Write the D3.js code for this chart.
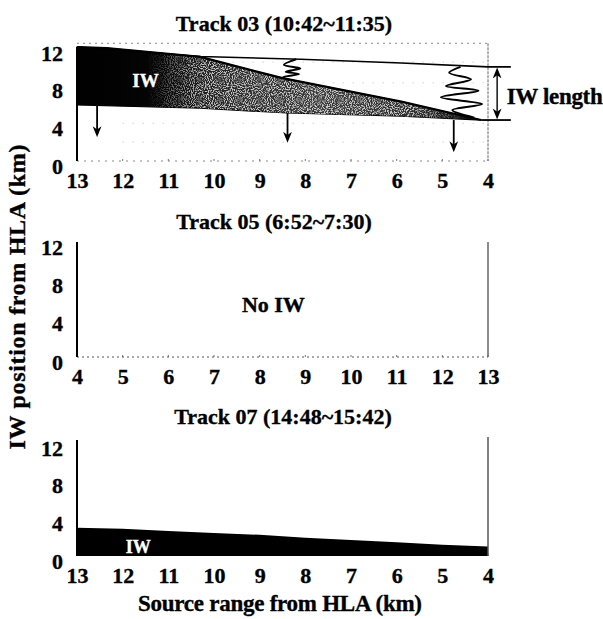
<!DOCTYPE html>
<html>
<head>
<meta charset="utf-8">
<script src="https://cdn.jsdelivr.net/npm/d3@7"></script>
<style>
body { margin: 0; background: #fff; }
svg text { font-family: "Liberation Serif", "Times New Roman", serif; font-weight: bold; fill: #000; stroke: #000; stroke-width: 0.35px; }
</style>
</head>
<body>
<svg id="chart"></svg>
<script>
var width = 603,
	height = 619,
	LEFT = 77,
	RIGHT = 488,
	TICK_FONT = 22,
	TITLE_FONT = 22;

// ---- data (km from HLA / km position) ----
var rangeTicks = [4, 5, 6, 7, 8, 9, 10, 11, 12, 13];
var positionTicks = [0, 4, 8, 12];
var titles = ["Track 03 (10:42~11:35)", "Track 05 (6:52~7:30)", "Track 07 (14:48~15:42)"];

// track 03: IW packet, upper and lower edges
var iwUpper03 = [[13, 12.1], [12.35, 12.0], [10.3, 11.05], [8.5, 8.8], [5.9, 6.3], [4.15, 4.35]];
var iwLower03 = [[13, 5.95], [10.3, 5.6], [8.4, 5.1], [5.9, 4.75], [4.15, 4.35]];
// leading crest line
var crest03 = [[13, 12.1], [10.3, 11.1], [8.1, 10.8], [5.9, 10.4], [4, 10.0], [3.5, 10.0]];
// oscillation sketches
var springA03 = [[8.2, 10.8], [8.47, 10.2], [8.11, 9.83], [8.43, 9.48], [8.14, 9.24], [8.49, 8.89], [8.35, 8.6]];
var springB03 = [[4.6, 10.0], [4.85, 9.37], [4.37, 8.67], [4.92, 7.96], [4.21, 7.46], [5.03, 6.76], [4.13, 6.05], [4.78, 5.41], [4.3, 4.6]];
// propagation arrows: km, from, to
var arrowX03 = [12.56, 8.39, 4.75];
var arrowFrom03 = [5.95, 5.1, 4.35];
var arrowTo03 = [3.0, 2.4, 1.4];
// IW length bracket
var lengthTop03 = 10.0, lengthBottom03 = 4.35;

// track 07: IW packet top edge, bottom at 0
var range07 = [13, 12, 11, 10, 9, 8, 7, 6, 5, 4];
var top07 = [3.0, 2.9, 2.65, 2.45, 2.25, 1.95, 1.7, 1.45, 1.2, 1.0];

// ---- layout ----
var panels = [
	{ top: 48, bottom: 161, reversed: true, titleY: 24, titleX: 284 },
	{ top: 242, bottom: 357, reversed: false, titleY: 222, titleX: 274 },
	{ top: 443, bottom: 556, reversed: true, titleY: 417, titleX: 283 }
];

var svg = d3.select("#chart").attr("width", width).attr("height", height);

var defs = svg.append("defs");

// base shade of the packet, black at the old end
var grad = defs.append("linearGradient")
	.attr("id", "iwShade")
	.attr("gradientUnits", "userSpaceOnUse")
	.attr("x1", LEFT).attr("x2", RIGHT).attr("y1", 0).attr("y2", 0);
[[0, "#000"], [0.2, "#050505"], [0.35, "#262626"], [0.6, "#3a3a3a"], [0.85, "#2a2a2a"], [1, "#000"]]
	.forEach(function(s) {
		grad.append("stop").attr("offset", s[0]).attr("stop-color", s[1]);
	});

// where the stipple shows
var sgrad = defs.append("linearGradient")
	.attr("id", "stippleFade")
	.attr("gradientUnits", "userSpaceOnUse")
	.attr("x1", LEFT).attr("x2", RIGHT).attr("y1", 0).attr("y2", 0);
[[0, "#000"], [0.17, "#000"], [0.3, "#fff"], [0.82, "#fff"], [0.96, "#000"]]
	.forEach(function(s) {
		sgrad.append("stop").attr("offset", s[0]).attr("stop-color", s[1]);
	});
defs.append("mask").attr("id", "stippleMask")
	.append("rect")
	.attr("x", 0).attr("y", 0).attr("width", width).attr("height", height)
	.style("fill", "url(#stippleFade)");

var filt = defs.append("filter").attr("id", "speckle")
	.attr("x", 0).attr("y", 0).attr("width", 1).attr("height", 1);
filt.append("feTurbulence")
	.attr("type", "fractalNoise")
	.attr("baseFrequency", 0.95)
	.attr("numOctaves", 1)
	.attr("seed", 3);
filt.append("feColorMatrix")
	.attr("type", "matrix")
	.attr("values", "0 0 0 0 1  0 0 0 0 1  0 0 0 0 1  5 0 0 0 -2.2");

defs.append("marker")
	.attr("id", "head")
	.attr("viewBox", "0 0 10 10")
	.attr("refX", 6).attr("refY", 5)
	.attr("markerWidth", 11).attr("markerHeight", 11)
	.attr("markerUnits", "userSpaceOnUse")
	.attr("orient", "auto-start-reverse")
	.append("path")
	.attr("d", "M0,1 L10,5 L0,9 L3,5 Z")
	.style("fill", "#000");

var line = d3.line()
	.x(function(d) { return d.x; })
	.y(function(d) { return d.y; });

var curvy = d3.line()
	.curve(d3.curveCatmullRom.alpha(0.5))
	.x(function(d) { return d.x; })
	.y(function(d) { return d.y; });

panels.forEach(function(p, i) {
	p.x = d3.scaleLinear().domain(p.reversed ? [13, 4] : [4, 13]).range([LEFT, RIGHT]);
	p.y = d3.scaleLinear().domain([0, 12]).range([p.bottom, p.top]);
	p.g = svg.append("g").attr("class", "panel");

	p.g.append("text")
		.attr("x", p.titleX)
		.attr("y", p.titleY)
		.attr("dy", "0.33em")
		.attr("text-anchor", "middle")
		.style("font-size", TITLE_FONT + "px")
		.text(titles[i]);
});

function pts(p, arr) {
	return arr.map(function(d) { return { x: p.x(d[0]), y: p.y(d[1]) }; });
}

function drawAxes(p) {
	var xa = p.g.append("g")
		.attr("transform", "translate(0," + p.bottom + ")")
		.call(d3.axisBottom(p.x).tickValues(rangeTicks).tickSize(0).tickPadding(11).tickFormat(d3.format("d")));
	var ya = p.g.append("g")
		.attr("transform", "translate(" + LEFT + ",0)")
		.call(d3.axisLeft(p.y).tickValues(positionTicks).tickSize(0).tickPadding(14));
	[xa, ya].forEach(function(a) {
		a.select(".domain").remove();
		a.selectAll("text")
			.style("font-size", TICK_FONT + "px")
			.style("font-family", null)
			.attr("fill", null);
	});
	ya.selectAll("text").attr("dy", "0.55em");

	// small ticks on the base line
	p.g.append("g").selectAll("line")
		.data(rangeTicks)
		.enter()
		.append("line")
		.attr("x1", function(d) { return p.x(d); })
		.attr("x2", function(d) { return p.x(d); })
		.attr("y1", p.bottom)
		.attr("y2", p.bottom - 2)
		.style("stroke", "#777")
		.style("stroke-width", 1);
}

// ---------- Track 03 ----------
var p0 = panels[0];
drawAxes(p0);

// dotted frame
p0.g.append("line")
	.attr("x1", LEFT).attr("x2", RIGHT)
	.attr("y1", p0.y(12.5)).attr("y2", p0.y(12.5))
	.style("stroke", "#888").style("stroke-dasharray", "2,4");
p0.g.append("line")
	.attr("x1", LEFT).attr("x2", RIGHT)
	.attr("y1", p0.bottom).attr("y2", p0.bottom)
	.style("stroke", "#888").style("stroke-dasharray", "2,5");
p0.g.append("line")
	.attr("x1", RIGHT).attr("x2", RIGHT)
	.attr("y1", p0.y(12.5)).attr("y2", p0.bottom)
	.style("stroke", "#666").style("stroke-dasharray", "3,1");
[2, 4, 8.3, 10.5].forEach(function(v) {
	p0.g.append("line")
		.attr("x1", p0.x(12)).attr("x2", RIGHT)
		.attr("y1", p0.y(v)).attr("y2", p0.y(v))
		.style("stroke", "#bbb").style("stroke-dasharray", "1,9");
});

// IW packet
var packetD = line(pts(p0, iwUpper03).concat(pts(p0, iwLower03).reverse())) + "Z";
defs.append("clipPath").attr("id", "packetClip")
	.append("path").attr("d", packetD);
p0.g.append("path")
	.attr("d", packetD)
	.style("fill", "url(#iwShade)")
	.style("stroke", "#000")
	.style("stroke-width", 1.2);
p0.g.append("g")
	.attr("clip-path", "url(#packetClip)")
	.attr("mask", "url(#stippleMask)")
	.append("rect")
	.attr("x", LEFT).attr("y", p0.top - 5)
	.attr("width", RIGHT - LEFT).attr("height", p0.bottom - p0.top)
	.attr("filter", "url(#speckle)")
	.style("opacity", 0.75);
p0.g.append("path")
	.attr("d", line(pts(p0, iwUpper03)))
	.style("fill", "none")
	.style("stroke", "#000")
	.style("stroke-width", 2.2);

// crest line
p0.g.append("path")
	.attr("d", line(pts(p0, crest03)))
	.style("fill", "none")
	.style("stroke", "#000")
	.style("stroke-width", 1.6);

// springs
[springA03, springB03].forEach(function(s) {
	p0.g.append("path")
		.attr("d", curvy(pts(p0, s)))
		.style("fill", "none")
		.style("stroke", "#000")
		.style("stroke-width", 2)
		.style("stroke-linejoin", "round");
});

// propagation arrows
p0.g.selectAll(".prop")
	.data(arrowX03)
	.enter()
	.append("line")
	.attr("class", "prop")
	.attr("x1", function(d) { return p0.x(d); })
	.attr("x2", function(d) { return p0.x(d); })
	.attr("y1", function(d, i) { return p0.y(arrowFrom03[i]); })
	.attr("y2", function(d, i) { return p0.y(arrowTo03[i]); })
	.style("stroke", "#000")
	.style("stroke-width", 1.8)
	.attr("marker-end", "url(#head)");

// IW length bracket
p0.g.append("line")
	.attr("x1", p0.x(4.15)).attr("x2", p0.x(3.5))
	.attr("y1", p0.y(lengthBottom03)).attr("y2", p0.y(lengthBottom03))
	.style("stroke", "#000").style("stroke-width", 1.8);
p0.g.append("line")
	.attr("x1", p0.x(3.8)).attr("x2", p0.x(3.8))
	.attr("y1", p0.y(lengthTop03) + 5).attr("y2", p0.y(lengthBottom03) - 5)
	.style("stroke", "#000").style("stroke-width", 1.4)
	.attr("marker-start", "url(#head)")
	.attr("marker-end", "url(#head)");
p0.g.append("text")
	.attr("x", p0.x(3.59))
	.attr("y", (p0.y(lengthTop03) + p0.y(lengthBottom03)) / 2 + 3)
	.attr("dy", "0.35em")
	.style("font-size", "23px")
	.attr("textLength", 96)
	.text("IW length");

// left axis line
p0.g.append("line")
	.attr("x1", LEFT).attr("x2", LEFT)
	.attr("y1", p0.y(12.1)).attr("y2", p0.bottom)
	.style("stroke", "#000").style("stroke-width", 2);

p0.g.append("text")
	.attr("x", p0.x(11.5)).attr("y", p0.y(8.6))
	.attr("dy", "0.35em")
	.attr("text-anchor", "middle")
	.style("font-size", "19px")
	.style("fill", "#fff")
	.style("stroke", "#fff")
	.text("IW");

// ---------- Track 05 ----------
var p1 = panels[1];
drawAxes(p1);
p1.g.append("line")
	.attr("x1", LEFT).attr("x2", RIGHT)
	.attr("y1", p1.bottom).attr("y2", p1.bottom)
	.style("stroke", "#555").style("stroke-dasharray", "2,3");
p1.g.append("line")
	.attr("x1", LEFT).attr("x2", LEFT)
	.attr("y1", p1.top).attr("y2", p1.bottom)
	.style("stroke", "#000").style("stroke-width", 2);
p1.g.append("line")
	.attr("x1", RIGHT).attr("x2", RIGHT)
	.attr("y1", p1.top).attr("y2", p1.bottom)
	.style("stroke", "#666").style("stroke-width", 1.5);
p1.g.append("text")
	.attr("x", p1.x(8.3)).attr("y", p1.y(5.5))
	.attr("dy", "0.35em")
	.attr("text-anchor", "middle")
	.style("font-size", "22px")
	.text("No IW");

// ---------- Track 07 ----------
var p2 = panels[2];
drawAxes(p2);
var area07 = d3.area()
	.x(function(d, i) { return p2.x(range07[i]); })
	.y0(p2.y(0))
	.y1(function(d) { return p2.y(d); });
p2.g.append("path")
	.datum(top07)
	.attr("d", area07)
	.style("fill", "#000");
p2.g.append("line")
	.attr("x1", LEFT).attr("x2", LEFT)
	.attr("y1", p2.top - 3).attr("y2", p2.bottom)
	.style("stroke", "#000").style("stroke-width", 2);
p2.g.append("line")
	.attr("x1", RIGHT).attr("x2", RIGHT)
	.attr("y1", p2.top - 6).attr("y2", p2.bottom)
	.style("stroke", "#555").style("stroke-width", 1.5);
p2.g.append("text")
	.attr("x", p2.x(11.66)).attr("y", p2.y(1.0))
	.attr("dy", "0.35em")
	.attr("text-anchor", "middle")
	.style("font-size", "18px")
	.style("fill", "#fff")
	.style("stroke", "#fff")
	.text("IW");

// ---------- shared axis titles ----------
svg.append("text")
	.attr("transform", "translate(17,297) rotate(-90)")
	.attr("dy", "0.35em")
	.attr("text-anchor", "middle")
	.style("font-size", "24px")
	.attr("textLength", 305)
	.text("IW position from HLA (km)");

svg.append("text")
	.attr("x", 280)
	.attr("y", 603)
	.attr("dy", "0.35em")
	.attr("text-anchor", "middle")
	.style("font-size", "23px")
	.attr("textLength", 284)
	.text("Source range from HLA (km)");
</script>
</body>
</html>
